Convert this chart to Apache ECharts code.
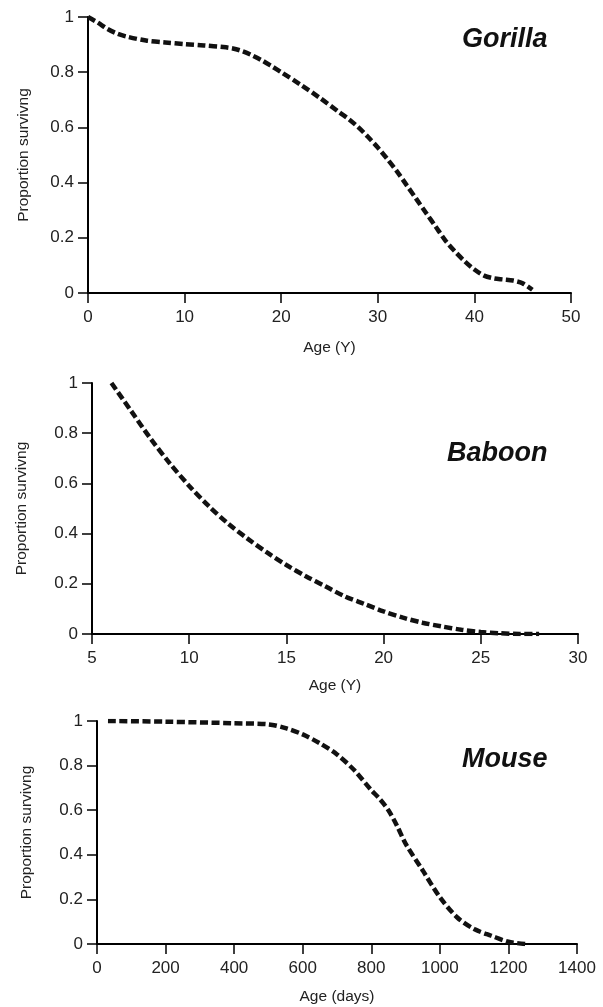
<!DOCTYPE html>
<html>
<head>
<meta charset="utf-8">
<script src="https://cdn.jsdelivr.net/npm/echarts@6/dist/echarts.min.js"></script>
<style>
  html, body { margin: 0; padding: 0; background: #fff; }
  #chart { width: 603px; height: 1007px; }
</style>
</head>
<body>
<div id="chart"></div>
<script>
// survival curves: [age, proportion]
var gorilla = [
  [0, 1], [1, 0.98], [2, 0.957], [3, 0.94], [4, 0.929], [6, 0.915], [8, 0.908],
  [10, 0.902], [12, 0.897], [14, 0.891], [15, 0.886], [16, 0.876], [17, 0.861],
  [18, 0.843], [19, 0.822], [20, 0.8], [22, 0.755], [24, 0.707], [26, 0.655],
  [27, 0.63], [28, 0.6], [29, 0.565], [30, 0.527], [31, 0.485], [32, 0.44],
  [33, 0.39], [34, 0.34], [35, 0.29], [36, 0.24], [37, 0.19], [38, 0.15],
  [39, 0.115], [40, 0.085], [41, 0.063], [42, 0.053], [43, 0.049], [44, 0.045],
  [45, 0.035], [46, 0.012]
];
var baboon = [
  [6, 1], [7, 0.89], [8, 0.78], [9, 0.68], [10, 0.59], [11, 0.51], [12, 0.44],
  [13, 0.38], [14, 0.325], [15, 0.275], [16, 0.23], [17, 0.19], [18, 0.15],
  [19, 0.12], [20, 0.09], [21, 0.065], [22, 0.045], [23, 0.03], [24, 0.017],
  [25, 0.008], [26, 0.003], [27, 0], [28, 0]
];
var mouse = [
  [32, 1], [200, 0.997], [400, 0.99], [500, 0.985], [550, 0.968], [600, 0.94],
  [650, 0.9], [700, 0.85], [750, 0.78], [800, 0.69], [825, 0.65], [850, 0.6],
  [875, 0.53], [900, 0.45], [950, 0.33], [1000, 0.21], [1050, 0.12],
  [1100, 0.067], [1150, 0.037], [1200, 0.01], [1250, 0]
];
var names = ['Gorilla', 'Baboon', 'Mouse'];
var xNames = ['Age (Y)', 'Age (Y)', 'Age (days)'];
var xRanges = [[0, 50, 10], [5, 30, 5], [0, 1400, 200]];

var chart = echarts.init(document.getElementById('chart'));
var font = 'Liberation Sans, Arial, sans-serif';

var grids = [
  { left: 88, top: 17, width: 483, height: 276 },
  { left: 92, top: 383, width: 486, height: 251 },
  { left: 97, top: 721, width: 480, height: 223 }
];
var titlePos = [[462, 26], [447, 440], [462, 746]];
var xGaps = [47, 44, 45];
var yGaps = [56, 62, 62];

var axisLine = { show: true, lineStyle: { color: '#000', width: 2 } };
var axisTick = { show: true, length: 10, inside: false, lineStyle: { color: '#000', width: 1.5 } };

var option = {
  animation: false,
  backgroundColor: '#fff',
  title: names.map(function (n, i) {
    return {
      text: n, left: titlePos[i][0], top: titlePos[i][1], padding: 0,
      textStyle: { fontFamily: font, fontSize: 27, fontWeight: 'bold', fontStyle: 'italic', color: '#111' }
    };
  }),
  grid: grids,
  xAxis: xRanges.map(function (r, i) {
    return {
      type: 'value', gridIndex: i, min: r[0], max: r[1], interval: r[2],
      name: xNames[i], nameLocation: 'middle', nameGap: xGaps[i],
      nameTextStyle: { fontFamily: font, fontSize: 15.5, color: '#222' },
      axisLine: axisLine, axisTick: axisTick, splitLine: { show: false },
      axisLabel: {
        fontFamily: font, fontSize: 17, color: '#222', margin: 16,
        formatter: function (v) { return String(v); }
      }
    };
  }),
  yAxis: [0, 1, 2].map(function (i) {
    return {
      type: 'value', gridIndex: i, min: 0, max: 1, interval: 0.2,
      name: 'Proportion survivng', nameLocation: 'middle', nameGap: yGaps[i], nameRotate: 90,
      nameTextStyle: { fontFamily: font, fontSize: 15.5, color: '#222' },
      axisLine: axisLine, axisTick: axisTick, splitLine: { show: false },
      axisLabel: { fontFamily: font, fontSize: 17, color: '#222', margin: 14 }
    };
  }),
  series: [gorilla, baboon, mouse].map(function (d, i) {
    return {
      type: 'line', xAxisIndex: i, yAxisIndex: i, data: d,
      smooth: 0.3, showSymbol: false, symbol: 'none',
      lineStyle: { color: '#111', width: 4.5, type: [8, 3.5] }
    };
  })
};
chart.setOption(option);
</script>
</body>
</html>
